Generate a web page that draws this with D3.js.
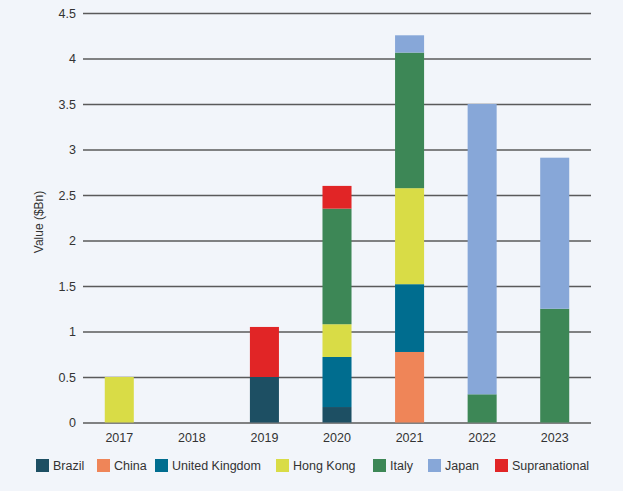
<!DOCTYPE html>
<html>
<head>
<meta charset="utf-8">
<script src="https://cdn.jsdelivr.net/npm/d3@7"></script>
<style>
  body { margin: 0; background: #f2f5fa; }
  svg { display: block; font-family: "Liberation Sans", Arial, sans-serif; }
</style>
</head>
<body>
<svg id="chart"></svg>
<script>
// stacked bars, value by issuer country per year

const years = ['2017', '2018', '2019', '2020', '2021', '2022', '2023'];
const countries = ['Brazil', 'China', 'United Kingdom', 'Hong Kong', 'Italy', 'Japan', 'Supranational'];

// values in $Bn, one entry per year
const brazil        = [0,    0, 0.50, 0.17, 0,     0,    0];
const china         = [0,    0, 0,    0,    0.775, 0,    0];
const unitedKingdom = [0,    0, 0,    0.55, 0.745, 0,    0];
const hongKong      = [0.50, 0, 0,    0.36, 1.055, 0,    0];
const italy         = [0,    0, 0,    1.27, 1.49,  0.31, 1.25];
const japan         = [0,    0, 0,    0,    0.19,  3.19, 1.66];
const supranational = [0,    0, 0.55, 0.25, 0,     0,    0];

const yTicks = [0, 0.5, 1, 1.5, 2, 2.5, 3, 3.5, 4, 4.5];

const colours = ['#1d4f63', '#ef8558', '#006d8f', '#d9dc46', '#3d8756', '#87a7d8', '#e12526'];

const width = 623, height = 491;
const margin = {top: 13, right: 32, bottom: 68, left: 83};

const svg = d3.select('#chart')
    .attr('width', width)
    .attr('height', height);

// build rows for the stack
const series = [brazil, china, unitedKingdom, hongKong, italy, japan, supranational];
const rows = years.map((y, i) => {
    let r = {year: y};
    countries.forEach((c, j) => r[c] = series[j][i]);
    return r;
});

const stacked = d3.stack().keys(countries)(rows);

const x = d3.scaleBand()
    .domain(years)
    .range([margin.left, width - margin.right])
    .paddingInner(0.6)
    .paddingOuter(0.3);

const y = d3.scaleLinear()
    .domain([0, 4.5])
    .range([height - margin.bottom - 0.5, margin.top]);

const colour = d3.scaleOrdinal().domain(countries).range(colours);

// gridlines + y labels
const yAxis = svg.append('g')
    .attr('transform', `translate(${margin.left},0)`)
    .call(d3.axisLeft(y)
        .tickValues(yTicks)
        .tickFormat(d => d)
        .tickSize(-(width - margin.left - margin.right))
        .tickPadding(7));

yAxis.select('.domain').remove();
yAxis.selectAll('.tick line')
    .attr('stroke', '#5a5a5a')
    .attr('stroke-width', 1.3);
yAxis.selectAll('.tick text')
    .attr('fill', '#333')
    .style('font-size', '12.5px');

// bars
svg.append('g')
    .selectAll('g')
    .data(stacked)
    .join('g')
    .attr('fill', d => colour(d.key))
    .selectAll('rect')
    .data(d => d.filter(p => p[1] - p[0] > 0))
    .join('rect')
    .attr('x', d => x(d.data.year))
    .attr('width', x.bandwidth())
    .attr('y', d => y(d[1]))
    .attr('height', d => y(d[0]) - y(d[1]));

// x labels
const xAxis = svg.append('g')
    .attr('transform', `translate(0,${height - margin.bottom})`)
    .call(d3.axisBottom(x).tickSize(0).tickPadding(10));

xAxis.select('.domain').remove();
xAxis.selectAll('.tick text')
    .attr('fill', '#333')
    .style('font-size', '12.5px');

// y title
svg.append('text')
    .attr('transform', 'translate(43,222) rotate(-90)')
    .attr('text-anchor', 'middle')
    .attr('fill', '#333')
    .style('font-size', '12px')
    .text('Value ($Bn)');

// legend
const legendX = [36, 97, 155, 276, 373, 428, 495];
const legend = svg.append('g')
    .selectAll('g')
    .data(countries)
    .join('g')
    .attr('transform', (d, i) => `translate(${legendX[i]},459)`);

legend.append('rect')
    .attr('width', 13)
    .attr('height', 13)
    .attr('fill', d => colour(d));

legend.append('text')
    .attr('x', 17)
    .attr('y', 11)
    .attr('fill', '#333')
    .style('font-size', '12.5px')
    .text(d => d);
</script>
</body>
</html>
